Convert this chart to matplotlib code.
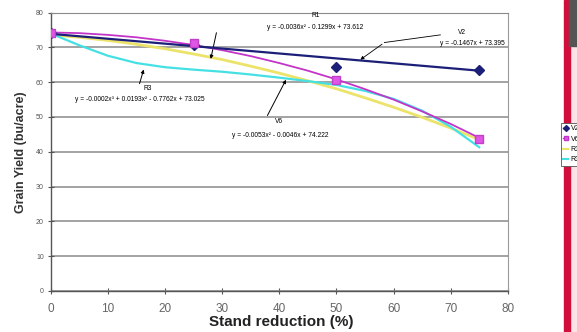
import matplotlib
matplotlib.use("Agg")
import matplotlib.pyplot as plt
from matplotlib.patches import Rectangle
import numpy as np

plt.rcParams['font.family'] = ['Liberation Sans', 'DejaVu Sans']

# measured points (stand reduction %, yield bu/acre)
stand_red = [0, 25, 50, 75]
v2_yield = [74.0, 70.8, 64.4, 63.5]
v6_yield = [74.2, 71.3, 60.5, 43.8]

# trend curves
curve_x = [0, 5, 10, 15, 20, 25, 30, 35, 40, 45, 50, 55, 60, 65, 70, 75]
v6_curve = [74.3, 74.1, 73.6, 72.9, 71.9, 70.7, 69.2, 67.5, 65.5, 63.3,
            60.8, 58.0, 55.0, 51.6, 48.0, 44.0]
r1_curve = [73.6, 72.9, 72.0, 70.9, 69.6, 68.1, 66.5, 64.6, 62.6, 60.4,
            58.1, 55.5, 52.8, 49.9, 46.8, 43.5]
r3_curve = [74.0, 70.6, 67.6, 65.5, 64.3, 63.6, 63.0, 62.2, 61.3, 60.3,
            59.2, 57.5, 55.2, 51.8, 47.2, 41.3]
v2_line_x = [0, 75]
v2_line_y = [73.9, 63.3]

x_ticks = [0, 10, 20, 30, 40, 50, 60, 70, 80]
y_ticks = [0, 10, 20, 30, 40, 50, 60, 70, 80]

navy = '#1c1f78'
magenta = '#c235c8'
yellow = '#ece46a'
cyan = '#45e0e4'

fig = plt.figure(figsize=(5.77, 3.32), dpi=100)
ax = fig.add_axes([0.088, 0.124, 0.792, 0.838])

ax.plot(curve_x, r1_curve, color=yellow, lw=2.0, zorder=3)
ax.plot(curve_x, r3_curve, color=cyan, lw=1.6, zorder=3)
ax.plot(curve_x, v6_curve, color=magenta, lw=1.3, zorder=4)
ax.plot(v2_line_x, v2_line_y, color=navy, lw=1.6, zorder=4)

ax.plot(stand_red, v2_yield, ls='none', marker='D', ms=5, color=navy, zorder=5)
ax.plot(stand_red, v6_yield, ls='none', marker='s', ms=6, mfc='#e055e6',
        mec='#c040c8', zorder=6)

# legend handles
h1, = ax.plot([], [], marker='D', ms=3, color=navy, lw=1)
h2, = ax.plot([], [], marker='s', ms=3, color=magenta, mfc='#e055e6', lw=1)
h3, = ax.plot([], [], color=yellow, lw=1.5)
h4, = ax.plot([], [], color=cyan, lw=1.5)

# trend labels
fs = 4.8
ax.text(46.4, 79.2, 'R1', fontsize=fs, ha='center', va='center')
ax.text(46.2, 75.6, 'y = -0.0036x² - 0.1299x + 73.612', fontsize=fs,
        ha='center', va='center')
ax.annotate('', xy=(27.9, 65.9), xytext=(29.1, 75.0),
            arrowprops=dict(arrowstyle='-|>', color='black', lw=0.7, mutation_scale=5))

ax.text(16.9, 58.3, 'R3', fontsize=fs, ha='center', va='center')
ax.text(15.5, 55.1, 'y = -0.0002x³ + 0.0193x² - 0.7762x + 73.025', fontsize=fs,
        ha='center', va='center')
ax.annotate('', xy=(16.4, 64.4), xytext=(15.4, 58.8),
            arrowprops=dict(arrowstyle='-|>', color='black', lw=0.7, mutation_scale=5))

ax.text(39.9, 48.6, 'V6', fontsize=fs, ha='center', va='center')
ax.text(40.2, 44.8, 'y = -0.0053x² - 0.0046x + 74.222', fontsize=fs,
        ha='center', va='center')
ax.annotate('', xy=(41.4, 61.4), xytext=(37.7, 49.7),
            arrowprops=dict(arrowstyle='-|>', color='black', lw=0.7, mutation_scale=5))

ax.text(72.0, 74.4, 'V2', fontsize=fs, ha='center', va='center')
ax.text(79.5, 71.1, 'y = -0.1467x + 73.395', fontsize=fs, ha='right', va='center')
ax.plot([68.2, 58.4], [73.6, 71.4], color='black', lw=0.6, zorder=7)
ax.annotate('', xy=(53.8, 66.0), xytext=(58.4, 71.4),
            arrowprops=dict(arrowstyle='-|>', color='black', lw=0.6, mutation_scale=5))

ax.set_xlim(0, 80)
ax.set_ylim(0, 80)
ax.set_xticks(x_ticks)
ax.set_yticks(y_ticks)
ax.set_xticklabels([str(t) for t in x_ticks], fontsize=8.5, color='#666666')
ax.set_yticklabels([str(t) for t in y_ticks], fontsize=5, color='#555555')
ax.tick_params(axis='both', direction='inout', length=4, width=0.8, color='#555555')
ax.tick_params(axis='x', pad=7)
ax.tick_params(axis='y', pad=3)
ax.grid(axis='y', color='#8a8a8a', lw=1.1)
ax.set_axisbelow(True)
for s in ['left', 'bottom']:
    ax.spines[s].set_color('#555555')
    ax.spines[s].set_linewidth(1.0)
ax.spines['right'].set_color('#9a9a9a')
ax.spines['top'].set_color('#8a8a8a')

fig.text(0.036, 0.543, 'Grain Yield (bu/acre)', rotation=90, fontsize=9,
         fontweight='bold', ha='center', va='center', color='#333333')
fig.text(0.487, 0.03, 'Stand reduction (%)', fontsize=11, fontweight='bold',
         ha='center', va='center', color='#222222')

# slide decoration at the right edge
fig.patches.append(Rectangle((0.985, 0), 0.015, 1, transform=fig.transFigure,
                             color='#fbe3e8', zorder=0))
fig.patches.append(Rectangle((0.978, 0), 0.010, 1, transform=fig.transFigure,
                             color='#d0103a', zorder=1))
fig.patches.append(Rectangle((0.986, 0.86), 0.014, 0.14, transform=fig.transFigure,
                             color='#555555', zorder=1))

leg = fig.legend([h1, h2, h3, h4], ['V2', 'V6', 'R1', 'R3'], loc='upper left',
                 bbox_to_anchor=(0.966, 0.64), fontsize=5, frameon=True,
                 fancybox=False, edgecolor='#555555', framealpha=1,
                 handlelength=0.8, handletextpad=0.3, borderpad=0.3,
                 labelspacing=0.5)
leg.get_frame().set_linewidth(0.6)

fig.savefig('out.png', dpi=100)
